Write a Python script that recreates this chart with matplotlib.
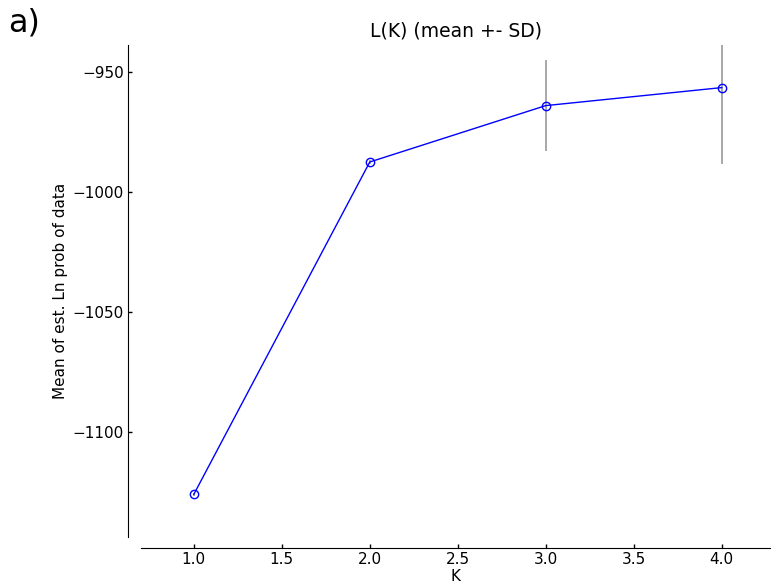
import numpy as np
import matplotlib
matplotlib.use("Agg")
import matplotlib.pyplot as plt

# values
k_values = [1, 2, 3, 4]
mean_lnp = [-1126.0, -987.5, -964.0, -956.5]
sd_lnp = [0.5, 1.0, 19.0, 32.0]

x_ticks = [1.0, 1.5, 2.0, 2.5, 3.0, 3.5, 4.0]
y_ticks = [-1100, -1050, -1000, -950]

fig = plt.figure(figsize=(7.71, 5.86), dpi=100)
ax = fig.add_axes([141 / 771, 49 / 586, 630 / 771, 492 / 586])

# error bars (gray) then line, then open markers
ax.errorbar(k_values, mean_lnp, yerr=sd_lnp, fmt="none", ecolor="#999999",
            elinewidth=1.2, capsize=0, zorder=1)
ax.plot(k_values, mean_lnp, color="blue", linewidth=1, zorder=2)
ax.plot(k_values, mean_lnp, linestyle="none", marker="o", markersize=6,
        markerfacecolor="none", markeredgecolor="blue", markeredgewidth=1, zorder=3)

ax.set_xlim(0.70, 4.28)
ax.set_ylim(-1143.75, -938.75)
ax.set_xticks(x_ticks)
ax.set_yticks(y_ticks)
ax.tick_params(direction="in", length=3, width=1, labelsize=11, pad=3)

ax.spines["top"].set_visible(False)
ax.spines["right"].set_visible(False)
ax.spines["left"].set_position(("outward", 9.4))
ax.spines["bottom"].set_position(("outward", 7.9))

ax.set_title("L(K) (mean +- SD)", fontsize=13.5, pad=6)
ax.set_xlabel("K", fontsize=11, labelpad=1.5)
ax.set_ylabel("Mean of est. Ln prob of data", fontsize=11, labelpad=3)

fig.text(0.011, 0.988, "a)", fontsize=23, va="top", ha="left")

fig.savefig("out.png", dpi=100)
